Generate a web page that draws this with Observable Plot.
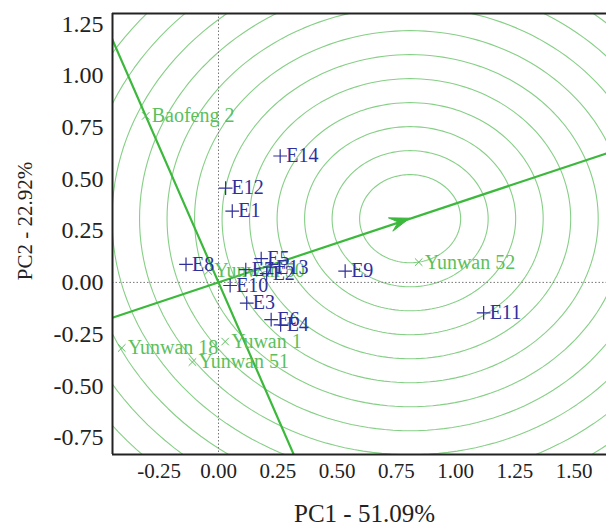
<!DOCTYPE html>
<html><head><meta charset="utf-8">
<script src="https://cdn.jsdelivr.net/npm/d3@7"></script>
<script src="https://cdn.jsdelivr.net/npm/@observablehq/plot@0.6"></script>
<style>body{margin:0;background:#fff} svg text{font-family:"Liberation Serif","Times New Roman",serif}</style>
</head><body><div id="chart"></div>
<script>
// Environments (blue +)
const envNames = ["E1","E2","E3","E4","E5","E6","E7","E8","E9","E10","E11","E12","E13","E14"];
const envX = [0.058, 0.203, 0.119, 0.262, 0.180, 0.222, 0.115, -0.137, 0.534, 0.049, 1.118, 0.030, 0.218, 0.260];
const envY = [0.345, 0.042, -0.100, -0.205, 0.115, -0.180, 0.062, 0.087, 0.055, -0.015, -0.147, 0.456, 0.074, 0.611];
// Genotypes (green x)
const genoNames = ["Baofeng 2","Yunwan 50","Yunwan 52","Yuwan 1","Yunwan 18","Yunwan 51"];
const genoX = [-0.307, -0.043, 0.844, 0.028, -0.408, -0.110];
const genoY = [0.805, 0.055, 0.098, -0.286, -0.317, -0.385];
// Ideal point (arrow tip, ring centre) and ring radii
const idealPoint = [0.808, 0.308];
const ringRadii = [0.213, 0.329, 0.445, 0.561, 0.677, 0.793, 0.909, 1.025, 1.141, 1.257, 1.373, 1.489, 1.605, 1.721];
// Axes
const xTicks = [-0.25, 0.00, 0.25, 0.50, 0.75, 1.00, 1.25, 1.50];
const yTicks = [-0.75, -0.50, -0.25, 0.00, 0.25, 0.50, 0.75, 1.00, 1.25];
const xDomain = [-0.447, 1.636];
const yDomain = [-0.832, 1.300];
const xTitle = "PC1 - 51.09%";
const yTitle = "PC2 - 22.92%";

const env = envNames.map((name, i) => ({name, x: envX[i], y: envY[i]}));
const geno = genoNames.map((name, i) => ({name, x: genoX[i], y: genoY[i]}));

const rings = [];
ringRadii.forEach((r, k) => {
  for (let a = 0; a <= 360; a += 2) {
    const t = a * Math.PI / 180;
    rings.push({ring: k, x: idealPoint[0] + r * Math.cos(t), y: idealPoint[1] + r * Math.sin(t)});
  }
});

const L = Math.hypot(idealPoint[0], idealPoint[1]);
const ux = idealPoint[0] / L, uy = idealPoint[1] / L;
const aea = [{x: -5 * ux, y: -5 * uy}, {x: 5 * ux, y: 5 * uy}];
const perp = [{x: 5 * uy, y: -5 * ux}, {x: -5 * uy, y: 5 * ux}];

const serif = "Liberation Serif";
const green = "#3cb93c";
const ringColor = "#86cf86";
const blue = "#2f2f9c";
const labelGreen = "#5cbf5c";

const arrowHead = Plot.dot([idealPoint], {
  x: d => d[0], y: d => d[1],
  render: (index, scales) => {
    const tx = scales.x(idealPoint[0]), ty = scales.y(idealPoint[1]);
    const ox = scales.x(0), oy = scales.y(0);
    const ang = Math.atan2(ty - oy, tx - ox);
    const len = 20, half = 7, notch = 12;
    const pt = (a, b) => [tx + a * Math.cos(ang) - b * Math.sin(ang), ty + a * Math.sin(ang) + b * Math.cos(ang)];
    const p1 = pt(-len, -half), p2 = pt(-notch, 0), p3 = pt(-len, half);
    const g = d3.create("svg:g");
    g.append("path")
      .attr("d", `M${tx},${ty}L${p1}L${p2}L${p3}Z`)
      .attr("fill", green).attr("stroke", green).attr("stroke-width", 1);
    return g.node();
  }
});

const chart = Plot.plot({
  width: 606,
  height: 527,
  marginLeft: 112,
  marginTop: 13,
  marginBottom: 73,
  marginRight: 0,
  style: {fontFamily: serif, background: "#fff", color: "#222"},
  x: {domain: xDomain},
  y: {domain: yDomain},
  marks: [
    Plot.line(rings, {x: "x", y: "y", z: "ring", stroke: ringColor, strokeWidth: 1.1, clip: true}),
    Plot.ruleX([0], {stroke: "#777", strokeWidth: 1, strokeDasharray: "1.5,2"}),
    Plot.ruleY([0], {stroke: "#777", strokeWidth: 1, strokeDasharray: "1.5,2"}),
    Plot.line(aea, {x: "x", y: "y", stroke: green, strokeWidth: 2.2, clip: true}),
    Plot.line(perp, {x: "x", y: "y", stroke: green, strokeWidth: 2.2, clip: true}),
    arrowHead,
    Plot.dot(geno, {x: "x", y: "y", symbol: "times", r: 3.5, stroke: labelGreen, strokeWidth: 1}),
    Plot.text(geno, {x: "x", y: "y", text: "name", textAnchor: "start", dx: 6, fill: labelGreen, fontSize: 20, fontFamily: serif}),
    Plot.dot(env, {x: "x", y: "y", symbol: "plus", r: 4.5, stroke: blue, strokeWidth: 1.2}),
    Plot.text(env, {x: "x", y: "y", text: "name", textAnchor: "start", dx: 6, fill: blue, fontSize: 20, fontFamily: serif}),
    Plot.axisX(xTicks, {tickSize: 0, tickPadding: 9, tickFormat: d => d.toFixed(2), fontSize: 21, fontFamily: serif, label: null}),
    Plot.axisY(yTicks, {tickSize: 0, tickPadding: 9, tickFormat: d => d.toFixed(2), fontSize: 24, fontFamily: serif, label: null}),
    Plot.text([xTitle], {frameAnchor: "bottom", dx: 5, dy: 59, text: d => d, fontSize: 25, fontFamily: serif, textAnchor: "middle", lineAnchor: "middle", fill: "#222"}),
    Plot.text([yTitle], {frameAnchor: "left", dx: -87, dy: -13, rotate: -90, text: d => d, fontSize: 21, fontFamily: serif, textAnchor: "middle", lineAnchor: "middle", fill: "#222"}),
    Plot.ruleX([xDomain[0]], {stroke: "#222", strokeWidth: 2}),
    Plot.ruleY([yDomain[0], yDomain[1]], {stroke: "#222", strokeWidth: 2})
  ]
});
document.getElementById("chart").append(chart);
</script>
</body></html>
